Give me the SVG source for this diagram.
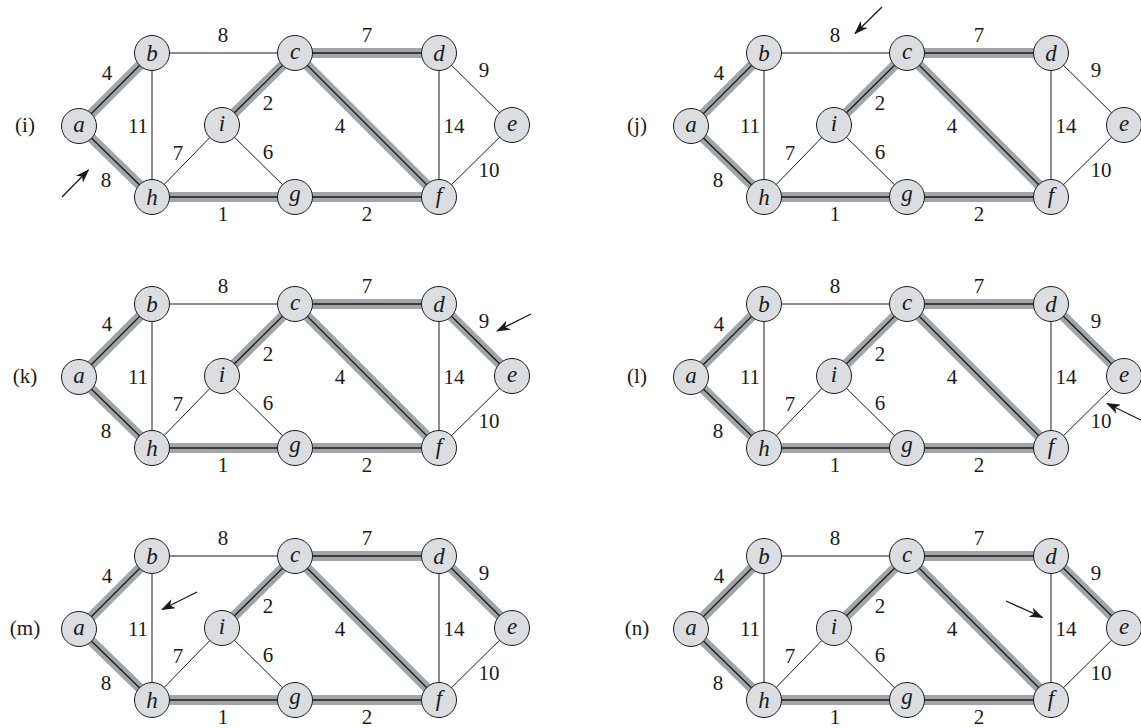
<svg xmlns="http://www.w3.org/2000/svg" width="1141" height="728" viewBox="0 0 1141 728" font-family="'Liberation Serif', 'Times New Roman', Times, 'DejaVu Serif', serif">
<style>
.bg{fill:#fff}
.e{stroke:#1a1a1a;stroke-width:1;fill:none}
.tb{stroke:#a3a4a8;stroke-width:10;fill:none;stroke-linecap:butt}
.tl{stroke:#1a1a1a;stroke-width:1.3;fill:none}
.n circle{fill:#dcdde0;stroke:#1a1a1a;stroke-width:1}
.n text{font-family:'Liberation Serif','Times New Roman',Times,'DejaVu Serif',serif;font-style:italic;font-size:23px;text-anchor:middle;fill:#1a1a1a}
.w{font-family:'Liberation Serif','Times New Roman',Times,'DejaVu Serif',serif;font-size:21px;text-anchor:middle;fill:#1a1a1a}
.pl{font-family:'Liberation Serif','Times New Roman',Times,'DejaVu Serif',serif;font-size:21px;text-anchor:middle;fill:#1a1a1a}
.ar{stroke:#1a1a1a;stroke-width:1.3;fill:none;marker-end:url(#arr)}
</style>
<defs>
<marker id="arr" viewBox="0 0 14 10" markerWidth="14" markerHeight="10" refX="13" refY="5" orient="auto" markerUnits="userSpaceOnUse">
<path d="M0,0 L14,5 L0,10 L4,5 Z" fill="#1a1a1a"/>
</marker>
</defs>
<rect class="bg" x="0" y="0" width="1141" height="728"/>

<!-- Panel (i) -->
<g id="panel-i" transform="translate(0,0)">
<g id="connectors-i">
<line class="e" x1="152" y1="53" x2="295" y2="53"/>
<line class="e" x1="152" y1="53" x2="152" y2="197"/>
<line class="e" x1="152" y1="197" x2="222" y2="125"/>
<line class="e" x1="222" y1="125" x2="295" y2="197"/>
<line class="e" x1="439" y1="53" x2="439" y2="197"/>
<line class="e" x1="439" y1="53" x2="512" y2="125"/>
<line class="e" x1="512" y1="125" x2="439" y2="197"/>
<path class="tb" d="M79,126L152,53M79,126L152,197M222,125L295,53M295,53L439,53M295,53L439,197M152,197L295,197M295,197L439,197"/>
<path class="tl" d="M79,126L152,53M79,126L152,197M222,125L295,53M295,53L439,53M295,53L439,197M152,197L295,197M295,197L439,197"/>
</g>
<g id="weights-i">
<text class="w" x="107" y="80">4</text>
<text class="w" x="223" y="42">8</text>
<text class="w" x="138" y="133">11</text>
<text class="w" x="268" y="110">2</text>
<text class="w" x="178" y="160">7</text>
<text class="w" x="268" y="159">6</text>
<text class="w" x="106" y="187">8</text>
<text class="w" x="223" y="221">1</text>
<text class="w" x="367" y="42">7</text>
<text class="w" x="484" y="77">9</text>
<text class="w" x="340" y="133">4</text>
<text class="w" x="454" y="133">14</text>
<text class="w" x="489" y="177">10</text>
<text class="w" x="367" y="221">2</text>
</g>
<text class="pl" x="25" y="132">(i)</text>
<g id="node-i-a" class="n"><circle cx="79" cy="126" r="17.5"/><text x="79" y="132">a</text></g>
<g id="node-i-b" class="n"><circle cx="152" cy="53" r="17.5"/><text x="152" y="61">b</text></g>
<g id="node-i-c" class="n"><circle cx="295" cy="53" r="17.5"/><text x="295" y="59">c</text></g>
<g id="node-i-d" class="n"><circle cx="439" cy="53" r="17.5"/><text x="439" y="61">d</text></g>
<g id="node-i-e" class="n"><circle cx="512" cy="125" r="17.5"/><text x="512" y="131">e</text></g>
<g id="node-i-f" class="n"><circle cx="439" cy="197" r="17.5"/><text x="439" y="203">f</text></g>
<g id="node-i-g" class="n"><circle cx="295" cy="197" r="17.5"/><text x="295" y="201">g</text></g>
<g id="node-i-h" class="n"><circle cx="152" cy="197" r="17.5"/><text x="152" y="205">h</text></g>
<g id="node-i-i" class="n"><circle cx="222" cy="125" r="17.5"/><text x="222" y="131">i</text></g>
</g>

<!-- Panel (j) -->
<g id="panel-j" transform="translate(612,0)">
<g id="connectors-j">
<line class="e" x1="152" y1="53" x2="295" y2="53"/>
<line class="e" x1="152" y1="53" x2="152" y2="197"/>
<line class="e" x1="152" y1="197" x2="222" y2="125"/>
<line class="e" x1="222" y1="125" x2="295" y2="197"/>
<line class="e" x1="439" y1="53" x2="439" y2="197"/>
<line class="e" x1="439" y1="53" x2="512" y2="125"/>
<line class="e" x1="512" y1="125" x2="439" y2="197"/>
<path class="tb" d="M79,126L152,53M79,126L152,197M222,125L295,53M295,53L439,53M295,53L439,197M152,197L295,197M295,197L439,197"/>
<path class="tl" d="M79,126L152,53M79,126L152,197M222,125L295,53M295,53L439,53M295,53L439,197M152,197L295,197M295,197L439,197"/>
</g>
<g id="weights-j">
<text class="w" x="107" y="80">4</text>
<text class="w" x="223" y="42">8</text>
<text class="w" x="138" y="133">11</text>
<text class="w" x="268" y="110">2</text>
<text class="w" x="178" y="160">7</text>
<text class="w" x="268" y="159">6</text>
<text class="w" x="106" y="187">8</text>
<text class="w" x="223" y="221">1</text>
<text class="w" x="367" y="42">7</text>
<text class="w" x="484" y="77">9</text>
<text class="w" x="340" y="133">4</text>
<text class="w" x="454" y="133">14</text>
<text class="w" x="489" y="177">10</text>
<text class="w" x="367" y="221">2</text>
</g>
<text class="pl" x="25" y="132">(j)</text>
<g id="node-j-a" class="n"><circle cx="79" cy="126" r="17.5"/><text x="79" y="132">a</text></g>
<g id="node-j-b" class="n"><circle cx="152" cy="53" r="17.5"/><text x="152" y="61">b</text></g>
<g id="node-j-c" class="n"><circle cx="295" cy="53" r="17.5"/><text x="295" y="59">c</text></g>
<g id="node-j-d" class="n"><circle cx="439" cy="53" r="17.5"/><text x="439" y="61">d</text></g>
<g id="node-j-e" class="n"><circle cx="512" cy="125" r="17.5"/><text x="512" y="131">e</text></g>
<g id="node-j-f" class="n"><circle cx="439" cy="197" r="17.5"/><text x="439" y="203">f</text></g>
<g id="node-j-g" class="n"><circle cx="295" cy="197" r="17.5"/><text x="295" y="201">g</text></g>
<g id="node-j-h" class="n"><circle cx="152" cy="197" r="17.5"/><text x="152" y="205">h</text></g>
<g id="node-j-i" class="n"><circle cx="222" cy="125" r="17.5"/><text x="222" y="131">i</text></g>
</g>

<!-- Panel (k) -->
<g id="panel-k" transform="translate(0,251)">
<g id="connectors-k">
<line class="e" x1="152" y1="53" x2="295" y2="53"/>
<line class="e" x1="152" y1="53" x2="152" y2="197"/>
<line class="e" x1="152" y1="197" x2="222" y2="125"/>
<line class="e" x1="222" y1="125" x2="295" y2="197"/>
<line class="e" x1="439" y1="53" x2="439" y2="197"/>
<line class="e" x1="512" y1="125" x2="439" y2="197"/>
<path class="tb" d="M79,126L152,53M79,126L152,197M222,125L295,53M295,53L439,53M295,53L439,197M152,197L295,197M295,197L439,197M439,53L512,125"/>
<path class="tl" d="M79,126L152,53M79,126L152,197M222,125L295,53M295,53L439,53M295,53L439,197M152,197L295,197M295,197L439,197M439,53L512,125"/>
</g>
<g id="weights-k">
<text class="w" x="107" y="80">4</text>
<text class="w" x="223" y="42">8</text>
<text class="w" x="138" y="133">11</text>
<text class="w" x="268" y="110">2</text>
<text class="w" x="178" y="160">7</text>
<text class="w" x="268" y="159">6</text>
<text class="w" x="106" y="187">8</text>
<text class="w" x="223" y="221">1</text>
<text class="w" x="367" y="42">7</text>
<text class="w" x="484" y="77">9</text>
<text class="w" x="340" y="133">4</text>
<text class="w" x="454" y="133">14</text>
<text class="w" x="489" y="177">10</text>
<text class="w" x="367" y="221">2</text>
</g>
<text class="pl" x="25" y="132">(k)</text>
<g id="node-k-a" class="n"><circle cx="79" cy="126" r="17.5"/><text x="79" y="132">a</text></g>
<g id="node-k-b" class="n"><circle cx="152" cy="53" r="17.5"/><text x="152" y="61">b</text></g>
<g id="node-k-c" class="n"><circle cx="295" cy="53" r="17.5"/><text x="295" y="59">c</text></g>
<g id="node-k-d" class="n"><circle cx="439" cy="53" r="17.5"/><text x="439" y="61">d</text></g>
<g id="node-k-e" class="n"><circle cx="512" cy="125" r="17.5"/><text x="512" y="131">e</text></g>
<g id="node-k-f" class="n"><circle cx="439" cy="197" r="17.5"/><text x="439" y="203">f</text></g>
<g id="node-k-g" class="n"><circle cx="295" cy="197" r="17.5"/><text x="295" y="201">g</text></g>
<g id="node-k-h" class="n"><circle cx="152" cy="197" r="17.5"/><text x="152" y="205">h</text></g>
<g id="node-k-i" class="n"><circle cx="222" cy="125" r="17.5"/><text x="222" y="131">i</text></g>
</g>

<!-- Panel (l) -->
<g id="panel-l" transform="translate(612,251)">
<g id="connectors-l">
<line class="e" x1="152" y1="53" x2="295" y2="53"/>
<line class="e" x1="152" y1="53" x2="152" y2="197"/>
<line class="e" x1="152" y1="197" x2="222" y2="125"/>
<line class="e" x1="222" y1="125" x2="295" y2="197"/>
<line class="e" x1="439" y1="53" x2="439" y2="197"/>
<line class="e" x1="512" y1="125" x2="439" y2="197"/>
<path class="tb" d="M79,126L152,53M79,126L152,197M222,125L295,53M295,53L439,53M295,53L439,197M152,197L295,197M295,197L439,197M439,53L512,125"/>
<path class="tl" d="M79,126L152,53M79,126L152,197M222,125L295,53M295,53L439,53M295,53L439,197M152,197L295,197M295,197L439,197M439,53L512,125"/>
</g>
<g id="weights-l">
<text class="w" x="107" y="80">4</text>
<text class="w" x="223" y="42">8</text>
<text class="w" x="138" y="133">11</text>
<text class="w" x="268" y="110">2</text>
<text class="w" x="178" y="160">7</text>
<text class="w" x="268" y="159">6</text>
<text class="w" x="106" y="187">8</text>
<text class="w" x="223" y="221">1</text>
<text class="w" x="367" y="42">7</text>
<text class="w" x="484" y="77">9</text>
<text class="w" x="340" y="133">4</text>
<text class="w" x="454" y="133">14</text>
<text class="w" x="489" y="177">10</text>
<text class="w" x="367" y="221">2</text>
</g>
<text class="pl" x="25" y="132">(l)</text>
<g id="node-l-a" class="n"><circle cx="79" cy="126" r="17.5"/><text x="79" y="132">a</text></g>
<g id="node-l-b" class="n"><circle cx="152" cy="53" r="17.5"/><text x="152" y="61">b</text></g>
<g id="node-l-c" class="n"><circle cx="295" cy="53" r="17.5"/><text x="295" y="59">c</text></g>
<g id="node-l-d" class="n"><circle cx="439" cy="53" r="17.5"/><text x="439" y="61">d</text></g>
<g id="node-l-e" class="n"><circle cx="512" cy="125" r="17.5"/><text x="512" y="131">e</text></g>
<g id="node-l-f" class="n"><circle cx="439" cy="197" r="17.5"/><text x="439" y="203">f</text></g>
<g id="node-l-g" class="n"><circle cx="295" cy="197" r="17.5"/><text x="295" y="201">g</text></g>
<g id="node-l-h" class="n"><circle cx="152" cy="197" r="17.5"/><text x="152" y="205">h</text></g>
<g id="node-l-i" class="n"><circle cx="222" cy="125" r="17.5"/><text x="222" y="131">i</text></g>
</g>

<!-- Panel (m) -->
<g id="panel-m" transform="translate(0,503)">
<g id="connectors-m">
<line class="e" x1="152" y1="53" x2="295" y2="53"/>
<line class="e" x1="152" y1="53" x2="152" y2="197"/>
<line class="e" x1="152" y1="197" x2="222" y2="125"/>
<line class="e" x1="222" y1="125" x2="295" y2="197"/>
<line class="e" x1="439" y1="53" x2="439" y2="197"/>
<line class="e" x1="512" y1="125" x2="439" y2="197"/>
<path class="tb" d="M79,126L152,53M79,126L152,197M222,125L295,53M295,53L439,53M295,53L439,197M152,197L295,197M295,197L439,197M439,53L512,125"/>
<path class="tl" d="M79,126L152,53M79,126L152,197M222,125L295,53M295,53L439,53M295,53L439,197M152,197L295,197M295,197L439,197M439,53L512,125"/>
</g>
<g id="weights-m">
<text class="w" x="107" y="80">4</text>
<text class="w" x="223" y="42">8</text>
<text class="w" x="138" y="133">11</text>
<text class="w" x="268" y="110">2</text>
<text class="w" x="178" y="160">7</text>
<text class="w" x="268" y="159">6</text>
<text class="w" x="106" y="187">8</text>
<text class="w" x="223" y="221">1</text>
<text class="w" x="367" y="42">7</text>
<text class="w" x="484" y="77">9</text>
<text class="w" x="340" y="133">4</text>
<text class="w" x="454" y="133">14</text>
<text class="w" x="489" y="177">10</text>
<text class="w" x="367" y="221">2</text>
</g>
<text class="pl" x="25" y="132">(m)</text>
<g id="node-m-a" class="n"><circle cx="79" cy="126" r="17.5"/><text x="79" y="132">a</text></g>
<g id="node-m-b" class="n"><circle cx="152" cy="53" r="17.5"/><text x="152" y="61">b</text></g>
<g id="node-m-c" class="n"><circle cx="295" cy="53" r="17.5"/><text x="295" y="59">c</text></g>
<g id="node-m-d" class="n"><circle cx="439" cy="53" r="17.5"/><text x="439" y="61">d</text></g>
<g id="node-m-e" class="n"><circle cx="512" cy="125" r="17.5"/><text x="512" y="131">e</text></g>
<g id="node-m-f" class="n"><circle cx="439" cy="197" r="17.5"/><text x="439" y="203">f</text></g>
<g id="node-m-g" class="n"><circle cx="295" cy="197" r="17.5"/><text x="295" y="201">g</text></g>
<g id="node-m-h" class="n"><circle cx="152" cy="197" r="17.5"/><text x="152" y="205">h</text></g>
<g id="node-m-i" class="n"><circle cx="222" cy="125" r="17.5"/><text x="222" y="131">i</text></g>
</g>

<!-- Panel (n) -->
<g id="panel-n" transform="translate(612,503)">
<g id="connectors-n">
<line class="e" x1="152" y1="53" x2="295" y2="53"/>
<line class="e" x1="152" y1="53" x2="152" y2="197"/>
<line class="e" x1="152" y1="197" x2="222" y2="125"/>
<line class="e" x1="222" y1="125" x2="295" y2="197"/>
<line class="e" x1="439" y1="53" x2="439" y2="197"/>
<line class="e" x1="512" y1="125" x2="439" y2="197"/>
<path class="tb" d="M79,126L152,53M79,126L152,197M222,125L295,53M295,53L439,53M295,53L439,197M152,197L295,197M295,197L439,197M439,53L512,125"/>
<path class="tl" d="M79,126L152,53M79,126L152,197M222,125L295,53M295,53L439,53M295,53L439,197M152,197L295,197M295,197L439,197M439,53L512,125"/>
</g>
<g id="weights-n">
<text class="w" x="107" y="80">4</text>
<text class="w" x="223" y="42">8</text>
<text class="w" x="138" y="133">11</text>
<text class="w" x="268" y="110">2</text>
<text class="w" x="178" y="160">7</text>
<text class="w" x="268" y="159">6</text>
<text class="w" x="106" y="187">8</text>
<text class="w" x="223" y="221">1</text>
<text class="w" x="367" y="42">7</text>
<text class="w" x="484" y="77">9</text>
<text class="w" x="340" y="133">4</text>
<text class="w" x="454" y="133">14</text>
<text class="w" x="489" y="177">10</text>
<text class="w" x="367" y="221">2</text>
</g>
<text class="pl" x="25" y="132">(n)</text>
<g id="node-n-a" class="n"><circle cx="79" cy="126" r="17.5"/><text x="79" y="132">a</text></g>
<g id="node-n-b" class="n"><circle cx="152" cy="53" r="17.5"/><text x="152" y="61">b</text></g>
<g id="node-n-c" class="n"><circle cx="295" cy="53" r="17.5"/><text x="295" y="59">c</text></g>
<g id="node-n-d" class="n"><circle cx="439" cy="53" r="17.5"/><text x="439" y="61">d</text></g>
<g id="node-n-e" class="n"><circle cx="512" cy="125" r="17.5"/><text x="512" y="131">e</text></g>
<g id="node-n-f" class="n"><circle cx="439" cy="197" r="17.5"/><text x="439" y="203">f</text></g>
<g id="node-n-g" class="n"><circle cx="295" cy="197" r="17.5"/><text x="295" y="201">g</text></g>
<g id="node-n-h" class="n"><circle cx="152" cy="197" r="17.5"/><text x="152" y="205">h</text></g>
<g id="node-n-i" class="n"><circle cx="222" cy="125" r="17.5"/><text x="222" y="131">i</text></g>
</g>

<!-- Pointer arrows -->
<g id="pointers">
<line class="ar" x1="62" y1="197" x2="88.5" y2="170"/>
<line class="ar" x1="882" y1="7" x2="855" y2="33.5"/>
<line class="ar" x1="531" y1="314" x2="497" y2="331"/>
<line class="ar" x1="1150" y1="424.5" x2="1107" y2="403.5"/>
<line class="ar" x1="197" y1="592" x2="162" y2="609.5"/>
<line class="ar" x1="1006" y1="601" x2="1042.5" y2="617.5"/>
</g>
</svg>
